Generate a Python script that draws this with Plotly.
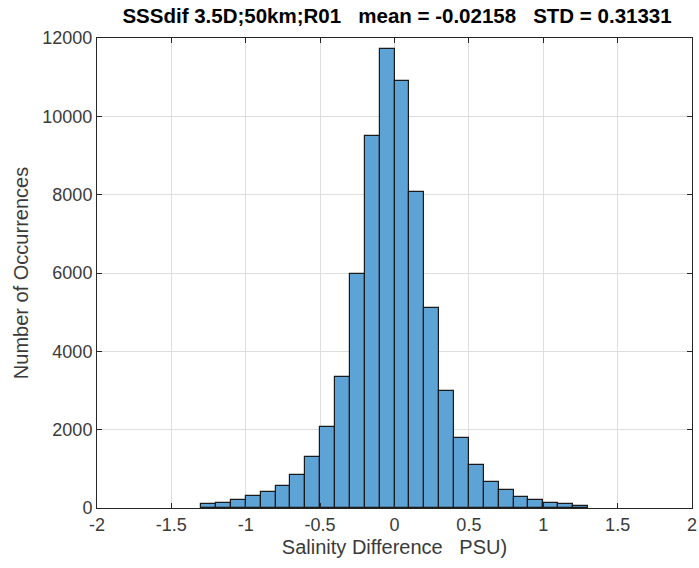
import plotly.graph_objects as go

# Histogram bins (left edges, width 0.1 PSU) and counts
bin_left_edges = [-1.3, -1.2, -1.1, -1.0, -0.9, -0.8, -0.7, -0.6, -0.5, -0.4, -0.3, -0.2, -0.1,
                  0.0, 0.1, 0.2, 0.3, 0.4, 0.5, 0.6, 0.7, 0.8, 0.9, 1.0, 1.1, 1.2]
counts = [100, 140, 210, 310, 420, 560, 840, 1300, 2060, 3350, 5980, 9510, 11730,
          10900, 8070, 5100, 3000, 1800, 1090, 660, 450, 280, 210, 140, 95, 60]
bin_width = 0.1

x_tick_vals = [-2, -1.5, -1, -0.5, 0, 0.5, 1, 1.5, 2]
x_tick_text = ["-2", "-1.5", "-1", "-0.5", "0", "0.5", "1", "1.5", "2"]
y_tick_vals = [0, 2000, 4000, 6000, 8000, 10000, 12000]
y_tick_text = ["0", "2000", "4000", "6000", "8000", "10000", "12000"]

title_text = "SSSdif 3.5D;50km;R01\u00a0\u00a0\u00a0mean = -0.02158\u00a0\u00a0\u00a0STD = 0.31331"
x_title = "Salinity Difference\u00a0\u00a0\u00a0PSU)"
y_title = "Number of Occurrences"

FONT = "Liberation Sans, Arial, sans-serif"
AX = "#262626"
TXT = "#3a3a3a"

fig = go.Figure()
fig.add_trace(go.Bar(
    x=bin_left_edges, y=counts, width=bin_width, offset=0,
    marker=dict(color="rgb(94,163,214)", line=dict(color="#1a1a1a", width=1.2)),
    showlegend=False,
))

fig.update_layout(
    width=699, height=568,
    margin=dict(l=97, r=7, t=38, b=60),
    paper_bgcolor="white", plot_bgcolor="white",
    bargap=0,
    title=dict(text="<b>" + title_text + "</b>", x=0.568, xanchor="center", y=0.972, yanchor="middle",
               font=dict(family=FONT, size=20.5, color="#000000")),
    font=dict(family=FONT, color=AX),
)
fig.update_xaxes(
    range=[-2, 2], tickvals=x_tick_vals, ticktext=x_tick_text,
    ticks="inside", ticklen=5, tickcolor=AX, tickwidth=1,
    showline=True, linecolor=AX, linewidth=1, mirror="ticks",
    showgrid=True, gridcolor="#dedede", gridwidth=1, zeroline=False,
    automargin=False, ticklabeloverflow="allow",
    tickfont=dict(family=FONT, size=18, color=TXT),
    title=dict(text=x_title, font=dict(family=FONT, size=20, color=TXT), standoff=6),
)
fig.update_yaxes(
    range=[0, 12000], tickvals=y_tick_vals, ticktext=y_tick_text,
    ticks="inside", ticklen=5, tickcolor=AX, tickwidth=1,
    showline=True, linecolor=AX, linewidth=1, mirror="ticks",
    showgrid=True, gridcolor="#dedede", gridwidth=1, zeroline=False,
    automargin=False, ticklabeloverflow="allow",
    tickfont=dict(family=FONT, size=18, color=TXT),
    title=dict(text=y_title, font=dict(family=FONT, size=20, color=TXT), standoff=8),
)

fig.write_html(
    "out.html",
    config={"displayModeBar": False},
    post_script="document.body.style.margin='0';document.body.style.overflow='hidden';",
)
